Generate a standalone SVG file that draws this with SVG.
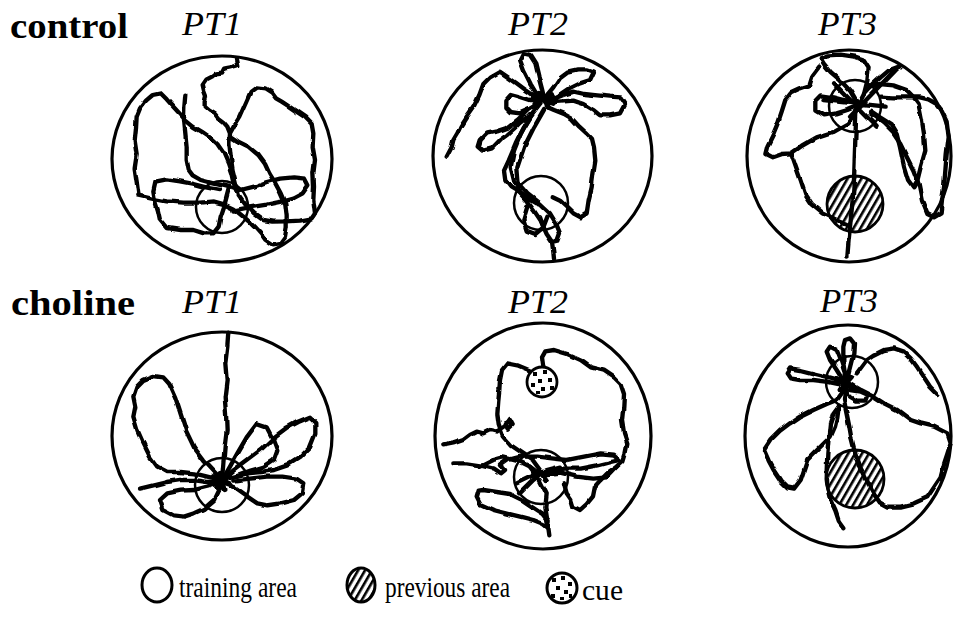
<svg xmlns="http://www.w3.org/2000/svg" width="957" height="620" viewBox="0 0 957 620">
<defs>
<style>
.pool{fill:none;stroke:#000;stroke-width:3.2}
.ta{fill:none;stroke:#000;stroke-width:2.5}
.pa{fill:url(#hatch);stroke:#000;stroke-width:2.8}
.cue{fill:#fff;stroke:#000;stroke-width:2.8}
.trk{fill:none;stroke:#000;stroke-width:13;stroke-linejoin:round;stroke-linecap:round}
.grp{font-family:"Liberation Serif","Times New Roman",serif;font-weight:bold;font-size:36px;fill:#000}
.pt{font-family:"Liberation Serif","Times New Roman",serif;font-style:italic;font-size:33px;fill:#000}
.leg{font-family:"Liberation Serif","Times New Roman",serif;font-size:29px;fill:#000}
</style>
<pattern id="hatch" patternUnits="userSpaceOnUse" width="6" height="6" patternTransform="rotate(30)">
<rect width="6" height="6" fill="#fff"/><rect width="2.6" height="6" fill="#000"/>
</pattern>
<filter id="wig" x="-5%" y="-5%" width="110%" height="110%">
<feTurbulence type="fractalNoise" baseFrequency="0.06" numOctaves="2" seed="4" result="n"/>
<feDisplacementMap in="SourceGraphic" in2="n" scale="4" xChannelSelector="R" yChannelSelector="G"/>
</filter>
</defs>
<rect width="957" height="620" fill="#fff"/>

<text class="grp" x="10" y="38" textLength="118" lengthAdjust="spacingAndGlyphs">control</text>
<text class="grp" x="11" y="315" textLength="124" lengthAdjust="spacingAndGlyphs">choline</text>

<!-- Control PT1 -->
<g id="control-pt1">
<text class="pt" x="182" y="35" textLength="60" lengthAdjust="spacingAndGlyphs">PT1</text>
<ellipse class="pool" cx="222" cy="159" rx="110" ry="103"/>
<circle class="ta" cx="222" cy="207" r="26"/>
<g filter="url(#wig)"><g transform="translate(0,0) scale(0.33333)">
<path class="trk" d="M708,176 L712,196 L690,202 L672,206 L666,218 L648,220 L636,230 L620,238 L608,255 L612,272 L618,288 L614,305 L614,320 L628,332 L645,342 L655,355 L670,366 L682,380 L690,400 L688,430 L692,470 L698,510 L708,550 L716,585 L735,612 L762,640 L790,660 L820,665 L860,664 L900,662 L935,655 L945,640 L940,600 L942,560 L940,520 L945,480 L938,440 L940,400 L935,372 L915,352 L890,335 L865,318 L845,305 L828,295 L815,278 L795,265 L770,262 L752,275 L742,298 L730,325 L718,352 L702,378 L690,400"/>
<path class="trk" d="M415,582 L410,545 L404,505 L410,465 L404,425 L408,385 L410,350 L420,325 L438,302 L458,285 L482,280 L500,298 L518,318 L540,342 L558,362 L580,380 L605,395 L630,412 L652,432 L670,458 L684,490 L694,520 L700,548 L712,575"/>
<path class="trk" d="M556,284 L553,320 L552,360 L556,400 L560,440 L560,480 L566,510 L578,526 L602,540 L640,550 L682,560 L722,570 L762,560 L800,546 L840,536 L880,532 L915,536 L925,556 L908,580 L878,596 L840,606 L800,614 L762,620 L728,626 L700,632"/>
<path class="trk" d="M692,410 L715,425 L745,440 L775,465 L795,492 L808,520 L825,548 L842,580 L856,612 L860,645 L860,682 L855,712 L840,732 L816,736 L796,722 L782,702 L762,680 L742,660 L720,642 L700,626 L670,612 L640,604 L600,608 L550,608 L500,604 L455,596 L412,586"/>
<path class="trk" d="M466,545 L500,538 L540,544 L580,552 L618,562 L660,570 M466,545 L460,572 L465,602 L474,632 L480,660 L500,684 L540,690 L580,690 L612,700 L640,700 L656,680 L662,650 L672,620 L680,590 L688,560"/>
</g></g>
</g>

<!-- Control PT2 -->
<g id="control-pt2">
<text class="pt" x="508" y="35" textLength="60" lengthAdjust="spacingAndGlyphs">PT2</text>
<ellipse class="pool" cx="542.5" cy="156" rx="109.5" ry="106"/>
<circle class="ta" cx="541" cy="203" r="27"/>
<g filter="url(#wig)"><g transform="translate(420,0) scale(0.33333)">
<path class="trk" d="M80,470 L95,442 L100,420 L112,400 L122,378 L140,350 L160,322 L178,285 L190,252 L210,232 L240,215 L262,230 L290,250 L312,266 L332,280 L358,296"/>
<path class="trk" d="M358,296 L332,252 L312,212 L300,180 L310,160 L330,165 L346,190 L356,232 L366,270 L372,296"/>
<path class="trk" d="M372,296 L400,262 L420,232 L442,215 L472,208 L502,208 L522,215 L510,240 L480,250 L450,265 L420,285 L390,300"/>
<path class="trk" d="M392,300 L430,285 L462,275 L492,282 L532,286 L570,290 L602,292 L615,312 L600,340 L570,346 L540,346 L520,330 L490,312 L460,302 L400,306"/>
<path class="trk" d="M360,300 L330,300 L300,290 L272,282 L256,300 L256,322 L270,336 L300,340 L330,326 L356,310"/>
<path class="trk" d="M322,332 L292,360 L262,384 L232,394 L202,400 L182,420 L176,440 L190,452 L216,445 L240,420 L262,404 L282,386 L300,368 L330,345"/>
<path class="trk" d="M380,320 L402,330 L432,342 L456,356 L478,380 L500,400 L516,416 L522,442 L526,482 L520,522 L515,562 L506,600 L500,640 L482,652 L460,640 L440,620 L420,602 L398,592"/>
<path class="trk" d="M362,312 L330,352 L302,402 L282,452 L272,502 L282,542 L302,582 L322,604 L342,632 L362,662 L372,684"/>
<path class="trk" d="M352,320 L312,382 L287,432 L266,482 L252,512 L256,542 L272,562 L292,574 L320,592 L350,610"/>
<path class="trk" d="M372,330 L342,382 L312,442 L292,502 L296,552 L322,582 L360,612 L390,640 L408,670 L420,700 L412,722 L396,726 L380,702 L370,680 L360,652 M322,620 L310,660 L320,692 L346,702 L370,682 L382,650 M396,726 L400,756 L402,776"/>
<path class="trk" style="stroke-width:15" d="M340,290 L400,310 M345,312 L395,284 M356,280 L386,322 M346,300 L392,298"/>
</g></g>
</g>

<!-- Control PT3 -->
<g id="control-pt3">
<text class="pt" x="818" y="35" textLength="59" lengthAdjust="spacingAndGlyphs">PT3</text>
<ellipse class="pool" cx="849" cy="156" rx="102" ry="106"/>
<circle class="pa" cx="855" cy="204" r="28"/>
<circle class="ta" cx="855" cy="106" r="26"/>
<g filter="url(#wig)"><g transform="translate(740,0) scale(0.33333)">
<path class="trk" d="M350,305 L348,360 L346,420 L344,480 L342,540 L338,600 L332,660 L326,720 L322,770"/>
<path class="trk" d="M352,310 L330,272 L302,242 L272,216 L252,192 L242,176 L262,166 L302,164 L342,170 L372,180 L386,202 L382,242 L372,282 L360,305"/>
<path class="trk" d="M352,312 L320,302 L282,292 L242,286 L226,302 L226,332 L250,346 L290,340 L322,330 L350,318"/>
<path class="trk" d="M238,200 L218,226 L208,258 L178,268 L152,280 L136,300 L126,332 L114,368 L98,406 L82,438 L76,462 L96,472 L124,462 L154,460 L182,440 L230,412 L280,396 L326,370 L352,335"/>
<path class="trk" d="M154,460 L168,500 L182,540 L196,582 L216,612 L250,640 L290,660 L320,672"/>
<path class="trk" d="M372,282 L400,252 L422,232 L446,212 L478,200"/>
<path class="trk" d="M390,262 L420,252 L460,256 L500,270 L520,290 L536,312 L546,362 L552,402 L556,452 L542,502 L532,542 L520,562 L504,540 L492,500 L480,442 L470,402 L452,372 L420,352 L390,332"/>
<path class="trk" d="M420,290 L460,292 L500,292 L540,292 L565,298 L590,312 L606,332 L620,362 L626,412 L620,462 L616,512 L612,562 L606,602 L602,640 L582,652 L562,642 L546,602 L536,552 L520,510 L500,470 L480,430 L460,400 L430,370 L390,340"/>
<path class="trk" d="M282,250 L410,380 M250,300 L440,320 M470,205 L330,350"/>
</g></g>
</g>

<!-- Choline PT1 -->
<g id="choline-pt1">
<text class="pt" x="182" y="313" textLength="60" lengthAdjust="spacingAndGlyphs">PT1</text>
<ellipse class="pool" cx="222" cy="436" rx="110" ry="104"/>
<circle class="ta" cx="222" cy="485" r="27"/>
<g filter="url(#wig)"><g transform="translate(0,280) scale(0.33333)">
<path class="trk" d="M685,158 L682,200 L676,250 L680,300 L674,350 L678,400 L680,450 L674,500 L670,550 L666,600"/>
<path class="trk" d="M666,600 L640,572 L612,542 L582,502 L558,452 L542,402 L526,352 L508,312 L490,292 L460,288 L430,300 L410,320 L400,350 L406,380 L400,410 L412,450 L430,490 L450,530 L472,560 L502,576 L542,576 L582,580 L622,590 L666,600"/>
<path class="trk" d="M666,600 L702,570 L742,540 L782,510 L822,472 L862,442 L892,426 L930,410 L946,426 L946,462 L930,502 L900,532 L862,556 L822,570 L782,576 L742,580 L702,590 L666,602"/>
<path class="trk" d="M668,598 L690,560 L712,520 L740,472 L770,432 L800,442 L820,480 L832,512 L822,540 L792,560 L752,572 L712,586"/>
<path class="trk" d="M420,626 L460,616 L500,606 L540,600 L580,600 L622,606 L666,604"/>
<path class="trk" d="M664,606 L622,620 L582,630 L542,632 L502,640 L480,660 L490,690 L520,706 L552,710 L582,700 L612,686 L642,660 L660,622"/>
<path class="trk" d="M668,610 L702,622 L742,650 L772,670 L802,676 L842,670 L882,660 L906,640 L910,610 L890,596 L850,590 L800,590 L750,596 L700,602"/>
<path class="trk" style="stroke-width:15" d="M640,590 L690,615 M650,622 L685,585 M660,580 L672,632"/>
</g></g>
</g>

<!-- Choline PT2 -->
<g id="choline-pt2">
<text class="pt" x="508" y="313" textLength="60" lengthAdjust="spacingAndGlyphs">PT2</text>
<ellipse class="pool" cx="543" cy="436" rx="108" ry="113"/>
<circle class="ta" cx="541" cy="477" r="27"/>
<g filter="url(#wig)"><g transform="translate(420,280) scale(0.33333)">
<path class="trk" d="M332,272 L292,256 L262,250 L246,270 L240,300 L238,332 L235,362 L232,402 L236,432 L248,466 L276,498 L308,520 L338,540 L360,570 L380,600"/>
<path class="trk" d="M370,262 L366,232 L376,214 L402,210 L442,222 L482,240 L512,262 L552,272 L582,292 L602,312 L612,342 L610,382 L606,422 L612,462 L622,492 L616,522 L610,542 L590,560 L562,580 L540,602 L522,622 L516,652 L500,672 L480,690 L460,680 L454,660 L440,640 L432,610"/>
<path class="trk" d="M70,496 L100,490 L130,480 L150,465 L170,455 L190,460 L210,450 L230,455 L250,442 L262,432 L270,420 L278,435 L266,446 L258,432"/>
<path class="trk" d="M100,550 L140,550 L180,556 L220,566 L240,580 L252,570 L240,556 L262,540 L302,530 L352,530 L402,536 L442,540 L492,530 L542,520 L582,524 L600,540 L572,546 L532,556 L482,566 L432,566 L382,572 L332,590 L290,610"/>
<path class="trk" d="M180,560 L220,540 L250,532 L300,545 L330,560 L350,575 L380,582 L420,578 L470,590 L520,596 L560,592 L595,555"/>
<path class="trk" d="M176,632 L170,652 L180,672 L220,690 L260,700 L300,710 L340,720 L370,732 L382,742 L386,722 L370,702 L340,682 L310,662 L270,642 L230,636 L190,630 L176,632"/>
<path class="trk" d="M330,560 L360,602 L380,642 L376,682 L382,722 L388,766"/>
<path class="trk" d="M300,640 L340,600 L380,570 L420,560"/>
</g></g>
<circle class="cue" cx="542" cy="382" r="15"/>
<g fill="#000">
<rect x="533" y="372" width="4" height="4"/><rect x="543" y="370" width="4" height="4"/>
<rect x="538" y="379" width="4" height="4"/><rect x="548" y="378" width="4" height="4"/>
<rect x="531" y="383" width="4" height="4"/><rect x="541" y="387" width="4" height="4"/>
<rect x="550" y="386" width="4" height="4"/><rect x="536" y="391" width="4" height="3"/>
</g>
</g>

<!-- Choline PT3 -->
<g id="choline-pt3">
<text class="pt" x="820" y="312" textLength="58" lengthAdjust="spacingAndGlyphs">PT3</text>
<ellipse class="pool" cx="848" cy="436" rx="103" ry="111"/>
<circle class="pa" cx="855" cy="479" r="29"/>
<circle class="ta" cx="852" cy="382" r="26"/>
<g filter="url(#wig)"><g transform="translate(740,280) scale(0.33333)">
<path class="trk" d="M315,310 L290,270 L270,240 L260,215 L270,200 L290,210 L302,240 L312,272"/>
<path class="trk" d="M318,300 L310,250 L310,200 L315,180 L330,175 L342,190 L340,222 L330,262 L322,292"/>
<path class="trk" d="M300,300 L260,290 L220,280 L180,270 L150,265 L140,280 L150,295 L180,300 L220,300 L260,305 L296,312"/>
<path class="trk" d="M330,330 L360,335 L382,345 L376,362 L350,362 L330,350"/>
<path class="trk" d="M350,280 L380,240 L402,225 L432,210 L462,205 L492,215 L512,235 L532,262 L552,292 L572,322 L592,342"/>
<path class="trk" d="M330,312 L360,330 L400,350 L432,370 L472,390 L512,420 L542,430 L582,440 L622,460 L632,490 L622,522 L612,552 L602,592 L582,622 L562,652 L522,670 L482,680 L442,680 L420,668 L400,640 L380,600 L360,560 L345,520 L335,480 L328,440 L320,400 L312,360 L316,330"/>
<path class="trk" d="M310,332 L290,360 L260,372 L220,390 L180,410 L150,430 L120,452 L92,480 L72,510 L86,542 L102,572 L122,602 L142,622 L162,626 L182,600 L192,570 L202,540 L222,520 L252,490 L272,470 L285,440 L292,410 L296,380"/>
<path class="trk" d="M296,380 L280,402 L270,432 L266,472 L262,522 L260,572 L262,622 L272,662 L286,692 L296,722 L310,742"/>
<path class="trk" style="stroke-width:15" d="M290,300 L340,325 M300,330 L335,290 M315,285 L320,345"/>
</g></g>
</g>

<!-- Legend -->
<g id="legend">
<ellipse cx="157" cy="585" rx="15" ry="17" fill="none" stroke="#000" stroke-width="3"/>
<text class="leg" x="179" y="597" textLength="118" lengthAdjust="spacingAndGlyphs">training area</text>
<ellipse cx="361" cy="585" rx="14" ry="17" fill="url(#hatch)" stroke="#000" stroke-width="3"/>
<text class="leg" x="385" y="597" textLength="125" lengthAdjust="spacingAndGlyphs">previous area</text>
<circle cx="562" cy="588" r="15" fill="#fff" stroke="#000" stroke-width="3"/>
<g fill="#000">
<rect x="552" y="578" width="4" height="4"/><rect x="561" y="576" width="4" height="4"/>
<rect x="568" y="582" width="4" height="4"/><rect x="556" y="586" width="4" height="4"/>
<rect x="564" y="590" width="4" height="4"/><rect x="551" y="594" width="4" height="4"/>
<rect x="560" y="597" width="4" height="3"/><rect x="569" y="594" width="3" height="4"/>
</g>
<text class="leg" x="582" y="600" textLength="41" lengthAdjust="spacingAndGlyphs">cue</text>
</g>
</svg>
